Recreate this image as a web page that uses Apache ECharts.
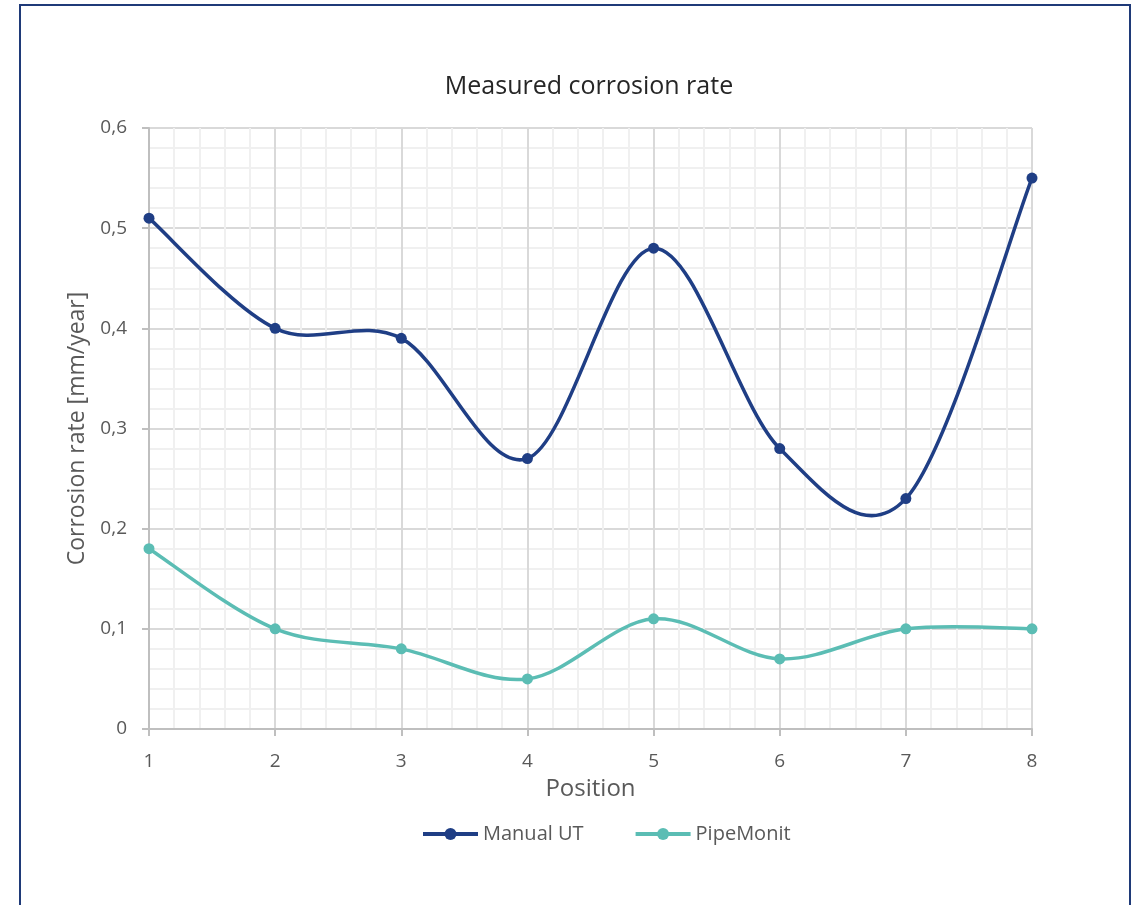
<!DOCTYPE html>
<html>
<head>
<meta charset="utf-8">
<script src="https://cdn.jsdelivr.net/npm/echarts@6/dist/echarts.min.js"></script>
<style>
  html, body { margin: 0; padding: 0; background: #fff; }
  #chart { width: 1137px; height: 905px; }
</style>
</head>
<body>
<div id="chart"></div>
<script>
// Measurement positions along the pipe
const positions = [1, 2, 3, 4, 5, 6, 7, 8];
// Corrosion rate in mm/year
const manualUT = [0.51, 0.40, 0.39, 0.27, 0.48, 0.28, 0.23, 0.55];
const pipeMonit = [0.18, 0.10, 0.08, 0.05, 0.11, 0.07, 0.10, 0.10];

const seriesNames = ['Manual UT', 'PipeMonit'];
const colors = ['#1F3E85', '#5BBDB4'];

const pair = (xs, ys) => xs.map((x, i) => [x, ys[i]]);
const fmt = v => String(Math.round(v * 10) / 10).replace('.', ',');

const FONT = '"Open Sans", "Noto Sans", sans-serif';
const LINE_W = 3.5;

// Smooth curve through the points (Catmull-Rom style cubic segments),
// each segment placed through the chart's own coordinate system.
function curveSeries(name, vals, color) {
  const pts = pair(positions, vals);
  const n = pts.length;
  return {
    name: name + ' curve',
    type: 'custom',
    data: pts,
    encode: { x: 0, y: 1 },
    z: 2,
    silent: true,
    renderItem(params, api) {
      const i = params.dataIndex;
      if (i >= n - 1) return null;
      const P = j => api.coord(pts[Math.max(0, Math.min(n - 1, j))]);
      const p0 = P(i - 1), p1 = P(i), p2 = P(i + 1), p3 = P(i + 2);
      return {
        type: 'bezierCurve',
        shape: {
          x1: p1[0], y1: p1[1], x2: p2[0], y2: p2[1],
          cpx1: p1[0] + (p2[0] - p0[0]) / 6, cpy1: p1[1] + (p2[1] - p0[1]) / 6,
          cpx2: p2[0] - (p3[0] - p1[0]) / 6, cpy2: p2[1] - (p3[1] - p1[1]) / 6
        },
        style: { stroke: color, lineWidth: LINE_W, fill: 'none', lineCap: 'round' }
      };
    }
  };
}

// Markers at each measurement (also provide the legend entries)
function markerSeries(name, vals, color) {
  return {
    name: name,
    type: 'line',
    data: pair(positions, vals),
    symbol: 'circle',
    symbolSize: 11,
    color: color,
    lineStyle: { width: LINE_W, color: color, opacity: 0 },
    itemStyle: { color: color },
    z: 4
  };
}

const chart = echarts.init(document.getElementById('chart'), null, { renderer: 'canvas' });

chart.setOption({
  animation: false,
  backgroundColor: '#fff',
  textStyle: { fontFamily: FONT },
  graphic: [{
    type: 'rect',
    shape: { x: 20, y: 5, width: 1110, height: 960 },
    style: { fill: 'none', stroke: '#1F3A78', lineWidth: 2 },
    silent: true
  }],
  title: {
    text: 'Measured corrosion rate',
    left: 584, top: 69, textAlign: 'center',
    textStyle: { fontFamily: FONT, fontSize: 25, fontWeight: 'normal', color: '#262626' }
  },
  legend: {
    data: seriesNames,
    left: 416, top: 819,
    itemWidth: 55, itemHeight: 15, itemGap: 50,
    lineStyle: { width: 4, opacity: 1 },
    textStyle: { fontFamily: FONT, fontSize: 20, color: '#595959' }
  },
  grid: { left: 149, top: 128, width: 883, height: 601, containLabel: false },
  xAxis: {
    type: 'value', min: 1, max: 8, interval: 1,
    name: 'Position', nameLocation: 'middle', nameGap: 48,
    nameTextStyle: { fontFamily: FONT, fontSize: 24, color: '#595959' },
    axisLine: { show: true, lineStyle: { color: '#BFBFBF', width: 2 } },
    axisTick: { show: true, length: 7, lineStyle: { color: '#BFBFBF', width: 2 } },
    axisLabel: { fontFamily: FONT, fontSize: 19, color: '#595959', margin: 23 },
    splitLine: { show: true, lineStyle: { color: '#D9D9D9', width: 2 } },
    minorTick: { show: true, splitNumber: 5, length: 0 },
    minorSplitLine: { show: true, lineStyle: { color: '#F0F0F0', width: 2 } }
  },
  yAxis: {
    type: 'value', min: 0, max: 0.6, interval: 0.1,
    name: 'Corrosion rate [mm/year]', nameLocation: 'middle', nameGap: 60,
    nameTextStyle: { fontFamily: FONT, fontSize: 23, color: '#595959' },
    axisLine: { show: true, lineStyle: { color: '#BFBFBF', width: 2 } },
    axisTick: { show: true, length: 7, lineStyle: { color: '#BFBFBF', width: 2 } },
    axisLabel: { fontFamily: FONT, fontSize: 19, color: '#595959', margin: 22, formatter: fmt },
    splitLine: { show: true, lineStyle: { color: '#D9D9D9', width: 2 } },
    minorTick: { show: true, splitNumber: 5, length: 0 },
    minorSplitLine: { show: true, lineStyle: { color: '#F0F0F0', width: 2 } }
  },
  series: [
    curveSeries(seriesNames[0], manualUT, colors[0]),
    curveSeries(seriesNames[1], pipeMonit, colors[1]),
    markerSeries(seriesNames[0], manualUT, colors[0]),
    markerSeries(seriesNames[1], pipeMonit, colors[1])
  ]
});
</script>
</body>
</html>
